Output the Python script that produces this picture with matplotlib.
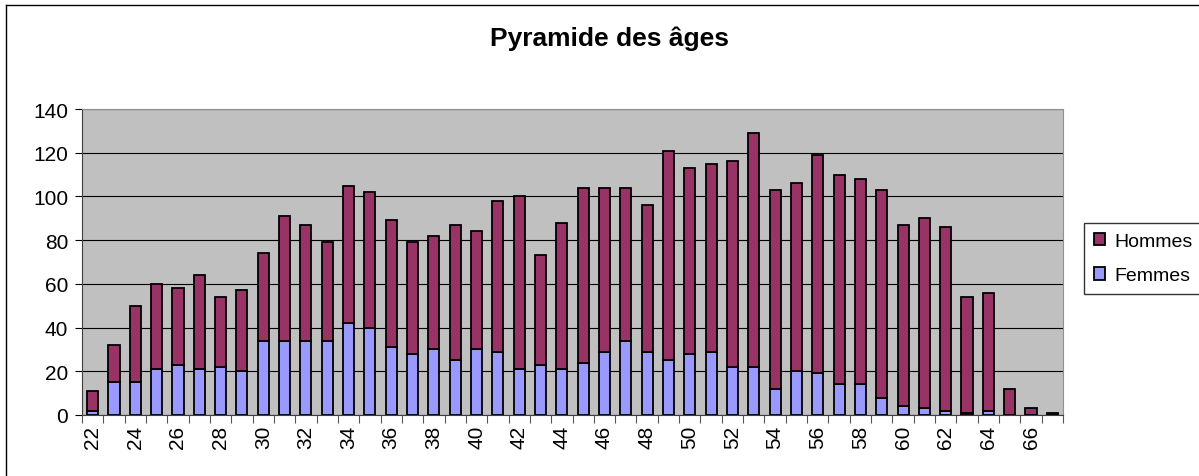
import numpy as np
import matplotlib
matplotlib.use("Agg")
import matplotlib.pyplot as plt
from matplotlib.lines import Line2D

plt.rcParams["font.family"] = ["Liberation Sans", "DejaVu Sans"]

# Ages and counts
ages = list(range(22, 68))
totals = [11, 32, 50, 60, 58, 64, 54, 57, 74, 91,
          87, 79, 105, 102, 89, 79, 82, 87, 84, 98,
          100, 73, 88, 104, 104, 104, 96, 121, 113, 115,
          116, 129, 103, 106, 119, 110, 108, 103, 87, 90,
          86, 54, 56, 12, 3, 1]
femmes = [2, 15, 15, 21, 23, 21, 22, 20, 34, 34,
          34, 34, 42, 40, 31, 28, 30, 25, 30, 29,
          21, 23, 21, 24, 29, 34, 29, 25, 28, 29,
          22, 22, 12, 20, 19, 14, 14, 8, 4, 3,
          2, 1, 2, 0, 0, 0]
hommes = [t - f for t, f in zip(totals, femmes)]

fig = plt.figure(figsize=(11.99, 4.77), dpi=100)
ax = fig.add_axes([82 / 1199, 61 / 477, 981 / 1199, 306 / 477])
ax.set_facecolor("#C0C0C0")

x = np.arange(len(ages))
ax.bar(x, femmes, width=0.52, color="#9999FF", edgecolor="black", linewidth=1.3,
       label="Femmes", zorder=3)
ax.bar(x, hommes, width=0.52, bottom=femmes, color="#993366", edgecolor="black",
       linewidth=1.3, label="Hommes", zorder=3)

ax.set_xlim(-0.5, len(ages) - 0.5)
ax.set_ylim(0, 140)
ax.set_yticks(range(0, 141, 20))
ax.yaxis.grid(True, color="black", linewidth=0.8, zorder=1)
ax.set_axisbelow(True)
ax.tick_params(axis="y", labelsize=15, length=5, direction="out", width=0.8, pad=5)

ax.set_xticks(x[::2])
ax.set_xticklabels([str(a) for a in ages[::2]], rotation=90, fontsize=15)
ax.set_xticks(np.arange(-0.5, len(ages), 1), minor=True)
ax.tick_params(axis="x", which="major", length=0, pad=7)
ax.tick_params(axis="x", which="minor", length=6, width=0.8, color="#555555")

ax.spines["left"].set_color("#404040")
ax.spines["bottom"].set_color("#404040")
ax.spines["top"].set_color("#909090")
ax.spines["right"].set_color("#909090")

fig.text(610 / 1199, 1 - 39 / 477, "Pyramide des âges", ha="center", va="center",
         fontsize=19, fontweight="bold")

handles, labels = ax.get_legend_handles_labels()
leg = fig.legend(handles[::-1], labels[::-1], loc="upper left",
                 bbox_to_anchor=(1084 / 1199, 1 - 224 / 477), fontsize=14,
                 frameon=True, fancybox=False, edgecolor="black",
                 handlelength=0.6, handleheight=0.6, handletextpad=0.45,
                 borderpad=0.5, labelspacing=0.9, borderaxespad=0)
leg.get_frame().set_linewidth(1)

# outer chart border (cut off on right and bottom)
fig.add_artist(Line2D([6 / 1199, 6 / 1199], [0, 1 - 6 / 477], color="black", linewidth=1))
fig.add_artist(Line2D([6 / 1199, 1], [1 - 6 / 477, 1 - 6 / 477], color="black", linewidth=1))

fig.savefig("out.png", dpi=100, facecolor="white")
